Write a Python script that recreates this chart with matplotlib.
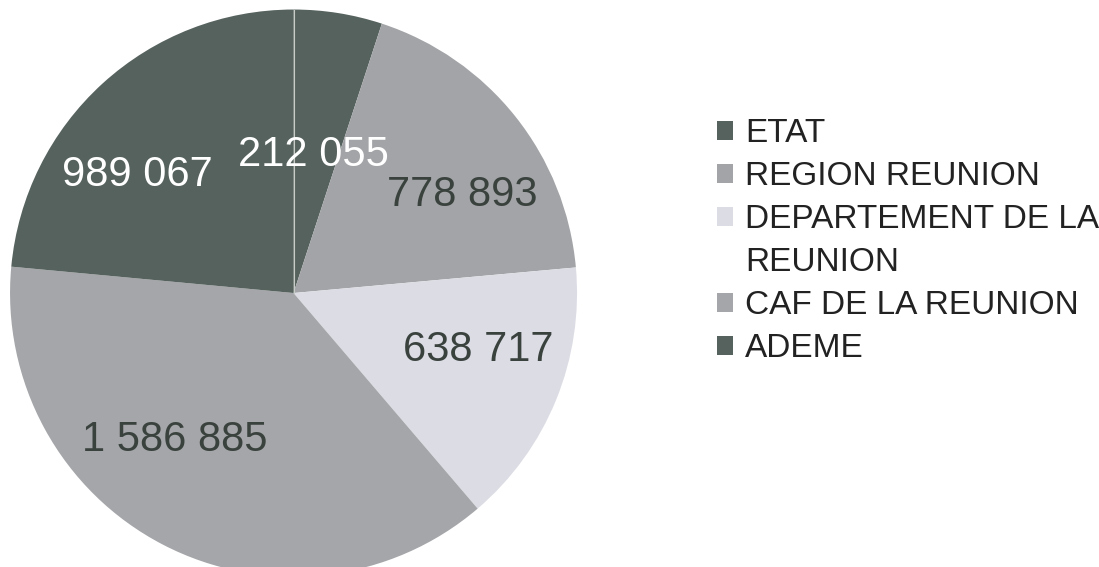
import matplotlib
matplotlib.use("Agg")
import matplotlib.pyplot as plt

plt.rcParams['font.family'] = ['Liberation Sans', 'DejaVu Sans']

# financeurs et montants (euros)
labels = ['ETAT', 'REGION REUNION', 'DEPARTEMENT DE LA\nREUNION', 'CAF DE LA REUNION', 'ADEME']
values = [212055, 778893, 638717, 1586885, 989067]
value_text = ['212 055', '778 893', '638 717', '1 586 885', '989 067']

colors = ['#56625d', '#a3a4a7', '#dcdce5', '#a5a6a9', '#56625d']
text_colors = ['white', '#3a423e', '#3a423e', '#3a423e', 'white']
# label positions (in pie radius units)
label_pos = [(0.069, 0.487), (0.594, 0.346), (0.651, -0.201), (-0.418, -0.519), (-0.552, 0.416)]

fig = plt.figure(figsize=(10.99, 5.67), dpi=100)
ax = fig.add_axes([0.0091, -0.0168, 0.516, 1.0])
wedges, _ = ax.pie(values, colors=colors, startangle=90, counterclock=False,
                   radius=1.0, wedgeprops=dict(linewidth=0))
ax.plot([0, 0], [0, 1], color='#c8ccc8', linewidth=0.8)
ax.set_xlim(-1, 1)
ax.set_ylim(-1, 1)
ax.set_aspect('equal')
ax.axis('off')

for txt, pos, col in zip(value_text, label_pos, text_colors):
    ax.text(pos[0], pos[1], txt, color=col, fontsize=30, ha='center', va='center')

leg = fig.legend(wedges, labels, loc='upper left', bbox_to_anchor=(0.652, 0.792),
                 frameon=False, fontsize=24, handlelength=0.5, handleheight=0.5,
                 handletextpad=0.35, labelspacing=0.36, borderpad=0, borderaxespad=0)
for t in leg.get_texts():
    t.set_linespacing(1.5)
    t.set_color('#222222')
# put the two-line entry's square next to its first line
h = leg.legend_handles[2]
h.set_y(h.get_y() + 18)

fig.savefig('out.png', dpi=100, facecolor='white')
